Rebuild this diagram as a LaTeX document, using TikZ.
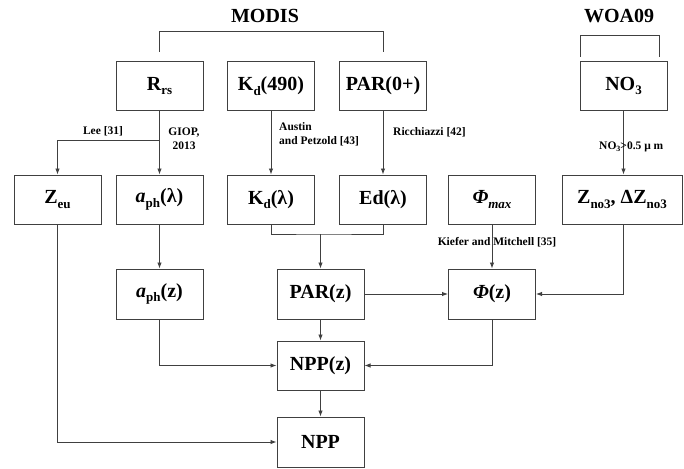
\documentclass[tikz,border=0pt]{standalone}
\usepackage{fontspec}
\setmainfont{Liberation Serif}
\usetikzlibrary{arrows.meta}
\newcommand\sbx[1]{\raisebox{-0.22em}{\fontsize{13}{15}\selectfont #1}}
\begin{document}
\begin{tikzpicture}[x=1pt,y=-1pt,
  box/.style={draw=black!75,line width=1pt,minimum width=87pt,minimum height=48pt,inner sep=0pt,
    font=\fontsize{20}{24}\selectfont\bfseries},
  title/.style={font=\fontsize{20}{24}\selectfont\bfseries},
  lab/.style={font=\fontsize{11.5}{14}\selectfont\bfseries,inner sep=0pt},
  ln/.style={draw=black!75,line width=0.9pt},
  arr/.style={ln,-{Latex[length=6pt,width=4.5pt]}}]
\useasboundingbox (0,0) rectangle (684,468);
\fill[white] (0,0) rectangle (684,468);
% titles
\node[title] (modis) at (265,16) {MODIS};
\node[title] (woa) at (619,16) {WOA09};
% row 1
\node[box] (rrs) at (159.5,86) {R\sbx{rs}};
\node[box] (kd490) at (271,86) {K\sbx{d}(490)};
\node[box] (par0) at (383,86) {PAR(0+)};
\node[box] (no3) at (623.5,86) {NO\sbx{3}};
% row 2
\node[box,minimum height=49pt] (zeu) at (57.5,199.5) {Z\sbx{eu}};
\node[box,minimum height=49pt] (aphl) at (159.5,199.5) {\textit{a}\sbx{ph}(λ)};
\node[box,minimum height=49pt] (kdl) at (271,199.5) {K\sbx{d}(λ)};
\node[box,minimum height=49pt] (edl) at (383,199.5) {Ed(λ)};
\node[box,minimum height=49pt] (phimax) at (492,199.5) {\textit{Φ}\sbx{\itshape max}};
\node[box,minimum height=49pt,minimum width=120pt] (zno3) at (622,199.5) {Z\sbx{no3}, ΔZ\sbx{no3}};
% row 3
\node[box,minimum height=50pt] (aphz) at (159.5,294) {\textit{a}\sbx{ph}(z)};
\node[box,minimum height=50pt] (parz) at (320.5,294) {PAR(z)};
\node[box,minimum height=50pt] (phiz) at (492,294) {\textit{Φ}(z)};
% row 4
\node[box,minimum height=49pt] (nppz) at (320.5,365.5) {NPP(z)};
\node[box,minimum height=50pt] (npp) at (320.5,442) {NPP};
% brackets
\coordinate (mL) at (159.5,52);
\coordinate (mR) at (383,52);
\draw[ln] (mL) -- (159.5,31) -- (383,31) -- (mR);
\coordinate (wL) at (580,57);
\coordinate (wR) at (659,57);
\draw[ln] (wL) -- (580,35) -- (659,35) -- (wR);
% row1 -> row2
\draw[arr] (rrs.south) -- (aphl.north);
\coordinate (lee) at (159.5,140);
\draw[arr] (lee) -| (zeu.north);
\draw[arr] (kd490.south) -- (kdl.north);
\draw[arr] (par0.south) -- (edl.north);
\draw[arr] (no3.south) -- (zno3.north -| no3.south);
% join Kd, Ed
\coordinate (jn) at (320.5,234);
\draw[ln] (kdl.south) |- (jn) -| (edl.south);
\draw[arr] (jn) -- (parz.north);
\draw[arr] (aphl.south) -- (aphz.north);
\draw[arr] (phimax.south) -- (phiz.north);
\draw[arr] (parz.east) -- (phiz.west);
\draw[arr] (zno3.south -| no3.south) |- (phiz.east);
% to NPP(z)
\draw[arr] (aphz.south) |- (nppz.west);
\draw[arr] (phiz.south) |- (nppz.east);
\draw[arr] (parz.south) -- (nppz.north);
\draw[arr] (nppz.south) -- (npp.north);
\draw[arr] (zeu.south) |- (npp.west);
% labels
\node[lab] (l1) at (103,131) {Lee [31]};
\node[lab,align=center] (l2) at (184,138.5) {GIOP,\\2013};
\node[lab,align=left,anchor=west] (l3) at (279,134.5) {Austin\\and Petzold [43]};
\node[lab,anchor=west] (l4) at (393,132) {Ricchiazzi [42]};
\node[lab,anchor=west] (l5) at (599,146.5) {NO\raisebox{-0.2em}{\fontsize{8}{9}\selectfont 3}>0.5 μ m};
\node[lab] (l6) at (497,242) {Kiefer and Mitchell [35]};
\end{tikzpicture}
\end{document}
